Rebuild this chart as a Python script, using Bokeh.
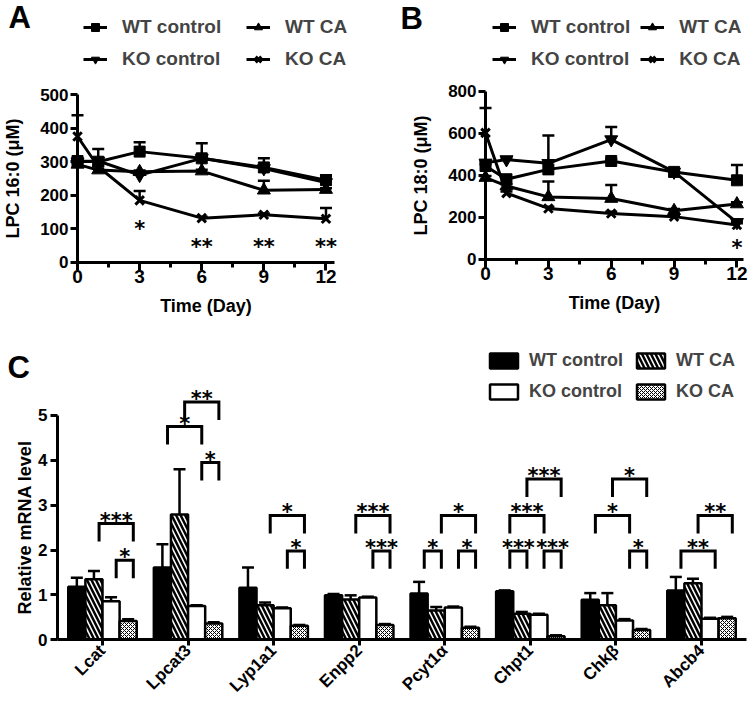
import math
from bokeh.plotting import figure
from bokeh.layouts import column, row
from bokeh.models import (ColumnDataSource, Legend, LegendItem, Whisker, TeeHead,
                          FixedTicker, Range1d)
from bokeh.embed import file_html
from bokeh.resources import INLINE
from bokeh.core.properties import value

FONT = "Liberation Sans"
STAR_FONT = "DejaVu Sans"

# ---------------- data ----------------
days = [0, 1, 3, 6, 9, 12]
day_ticks = [0, 3, 6, 9, 12]
day_minor = [1.5, 4.5, 7.5, 10.5]
groups = ["WT control", "WT CA", "KO control", "KO CA"]

# Panel A: LPC 16:0 (uM)
a_wt_ctrl = [302, 300, 330, 310, 283, 245]
a_wt_ctrl_err = [6, 38, 28, 45, 27, 15]
a_wt_ca = [292, 275, 270, 272, 215, 217]
a_wt_ca_err = [4, 4, 4, 4, 28, 4]
a_ko_ctrl = [300, 302, 260, 310, 280, 238]
a_ko_ctrl_err = [4, 4, 4, 4, 4, 4]
a_ko_ca = [375, 285, 185, 132, 142, 130]
a_ko_ca_err = [63, 4, 28, 4, 4, 32]
a_sig_days = [3, 6, 9, 12]
a_sig_y = [100, 47, 47, 47]
a_sig_labels = ["*", "**", "**", "**"]

# Panel B: LPC 18:0 (uM)
b_wt_ctrl = [445, 382, 429, 469, 417, 377]
b_wt_ctrl_err = [8, 8, 161, 8, 8, 73]
b_wt_ca = [390, 350, 298, 290, 232, 264]
b_wt_ca_err = [8, 8, 73, 65, 8, 8]
b_ko_ctrl = [460, 476, 458, 571, 417, 177]
b_ko_ctrl_err = [8, 8, 8, 60, 8, 8]
b_ko_ca = [603, 316, 243, 219, 204, 164]
b_ko_ca_err = [118, 8, 8, 8, 8, 8]
b_sig_days = [12]
b_sig_y = [54]
b_sig_labels = ["*"]

# Panel C: relative mRNA level
genes = ["Lcat", "Lpcat3", "Lyp1a1", "Enpp2", "Pcyt1\u03b1", "Chpt1", "Chk\u03b2", "Abcb4"]
c_wt_ctrl = [1.18, 1.61, 1.16, 0.99, 1.03, 1.08, 0.89, 1.10]
c_wt_ctrl_err = [0.20, 0.52, 0.45, 0.03, 0.26, 0.02, 0.15, 0.30]
c_wt_ca = [1.35, 2.79, 0.77, 0.90, 0.65, 0.58, 0.77, 1.26]
c_wt_ca_err = [0.18, 1.01, 0.06, 0.09, 0.08, 0.04, 0.27, 0.10]
c_ko_ctrl = [0.86, 0.75, 0.70, 0.94, 0.72, 0.56, 0.43, 0.47]
c_ko_ctrl_err = [0.09, 0.02, 0.02, 0.02, 0.02, 0.02, 0.03, 0.02]
c_ko_ca = [0.42, 0.36, 0.31, 0.33, 0.27, 0.08, 0.22, 0.48]
c_ko_ca_err = [0.04, 0.03, 0.02, 0.02, 0.02, 0.02, 0.02, 0.03]

# significance brackets: gene index, left bar, right bar, bracket height, label
brk_gene = [0, 0, 1, 1, 1, 2, 2, 3, 3, 4, 4, 4, 5, 5, 5, 5, 6, 6, 6, 7, 7]
brk_left = [1, 2, 0, 1, 2, 1, 2, 1, 2, 0, 2, 1, 0, 2, 0, 1, 0, 1, 2, 0, 1]
brk_right = [3, 3, 2, 3, 3, 3, 3, 3, 3, 1, 3, 3, 1, 3, 2, 3, 2, 3, 3, 2, 3]
brk_y = [2.59, 1.77, 4.75, 5.30, 3.95, 2.77, 1.98, 2.77, 1.98, 1.98, 1.98, 2.77,
         1.98, 1.98, 2.77, 3.58, 2.77, 3.58, 1.98, 1.98, 2.77]
brk_label = ["***", "*", "*", "**", "*", "*", "*", "***", "***", "*", "*", "*",
             "***", "***", "***", "***", "*", "*", "*", "**", "**"]


# ---------------- styling helpers ----------------
def style_axis(ax, tick_size, label_size="18px"):
    ax.axis_line_width = 3
    ax.axis_line_color = "black"
    ax.major_tick_line_width = 3
    ax.minor_tick_line_width = 3
    ax.major_tick_in = 0
    ax.minor_tick_in = 0
    ax.major_label_text_font = FONT
    ax.major_label_text_font_style = "bold"
    ax.major_label_text_font_size = tick_size
    ax.major_label_text_color = "black"
    ax.axis_label_text_font = FONT
    ax.axis_label_text_font_style = "bold"
    ax.axis_label_text_font_size = label_size
    ax.axis_label_text_color = "black"


def letter(p, x, y, txt):
    p.text(x=[x], y=[y], text=[txt], text_font=value(FONT), text_font_style="bold",
           text_font_size="31px", text_align="left", text_baseline="middle",
           text_color="black")


markers = ["square", "triangle", "inverted_triangle", "x"]
msizes = [11, 13, 13, 12]


def time_panel(width, x_rng, x_bound, y_rng, y_max, y_step, ylabel,
               vals, errs, sig_x, sig_y, sig_lab, letter_txt, letter_xy, legend_xy, label_w):
    p = figure(width=width, height=322, x_range=Range1d(*x_rng), y_range=Range1d(*y_rng),
               output_backend="svg", toolbar_location=None,
               min_border_left=0, min_border_right=0, min_border_top=0, min_border_bottom=0)
    p.outline_line_color = None
    p.xgrid.visible = False
    p.ygrid.visible = False
    p.background_fill_color = "white"

    style_axis(p.xaxis[0], "19px")
    style_axis(p.yaxis[0], "17px")
    p.xaxis.ticker = FixedTicker(ticks=day_ticks, minor_ticks=day_minor)
    p.xaxis.major_tick_out = 8
    p.xaxis.minor_tick_out = 5
    p.xaxis.major_label_standoff = 0
    p.xaxis.axis_label = "Time (Day)"
    p.xaxis.axis_label_standoff = 9
    p.xaxis.bounds = (0, x_bound)
    p.xaxis.fixed_location = 0
    p.yaxis.ticker = FixedTicker(ticks=list(range(0, y_max + 1, y_step)))
    p.yaxis.major_tick_out = 7
    p.yaxis.major_label_standoff = 2
    p.yaxis.axis_label = ylabel
    p.yaxis.axis_label_standoff = 14
    p.yaxis.bounds = (0, y_max)
    p.yaxis.fixed_location = 0

    items = []
    for name, v, e, mk, ms in zip(groups, vals, errs, markers, msizes):
        src = ColumnDataSource(dict(x=days, y=v, upper=[a + b for a, b in zip(v, e)]))
        w = Whisker(source=src, base="x", lower="y", upper="upper", dimension="height",
                    line_width=2.5, line_color="black",
                    upper_head=TeeHead(size=12, line_width=2.5, line_color="black"),
                    lower_head=None)
        p.add_layout(w)
        rl = p.line("x", "y", source=src, line_width=3, line_color="black")
        rm = p.scatter("x", "y", source=src, marker=mk, size=ms, fill_color="black",
                       line_color="black", line_width=3 if mk == "x" else 1)
        items.append((name, rl, rm))

    order = [0, 2, 1, 3]
    legend = Legend(items=[LegendItem(label=items[k][0], renderers=[items[k][1], items[k][2]]) for k in order],
                    location=legend_xy, orientation="vertical", ncols=2,
                    glyph_width=24, glyph_height=20, label_height=20, label_width=label_w,
                    label_standoff=15, spacing=10, padding=0, margin=0,
                    border_line_color=None, background_fill_alpha=0,
                    label_text_font=FONT, label_text_font_style="bold", label_text_font_size="19px")
    p.add_layout(legend)

    p.text(x=sig_x, y=sig_y, text=sig_lab, text_font=value(STAR_FONT), text_font_style="bold",
           text_font_size="21px", text_align="center", text_baseline="middle", text_color="black")
    letter(p, letter_xy[0], letter_xy[1], letter_txt)
    return p


# A: day 0 at x=77px, 20.7 px/day; y 0 at 262px, 0.336 px/unit; frame = whole figure
pA = time_panel(370, (-3.72, 14.15), 12.4, (-178.6, 779.8), 500, 100, "LPC 16:0 (\u03bcM)",
                [a_wt_ctrl, a_wt_ca, a_ko_ctrl, a_ko_ca],
                [a_wt_ctrl_err, a_wt_ca_err, a_ko_ctrl_err, a_ko_ca_err],
                a_sig_days, a_sig_y, a_sig_labels, "A", (-3.33, 730), (83, 252), 114)
# B: day 0 at x=485px, 20.96 px/day; y 0 at 259px, 0.21 px/unit
pB = time_panel(379, (-5.49, 12.6), 12.3, (-300, 1233), 800, 200, "LPC 18:0 (\u03bcM)",
                [b_wt_ctrl, b_wt_ca, b_ko_ctrl, b_ko_ca],
                [b_wt_ctrl_err, b_wt_ca_err, b_ko_ctrl_err, b_ko_ca_err],
                b_sig_days, b_sig_y, b_sig_labels, "B", (-4.06, 1148), (122, 252), 94)

# ---------------- panel C ----------------
offsets = [-0.3, -0.1, 0.1, 0.3]
BAR_W = 0.2
BRK_SHIFT = 0.06
LEG = 0.4

pC = figure(width=749, height=391, x_range=Range1d(-0.692, 8.061), y_range=Range1d(-1.643, 7.07),
            output_backend="svg", toolbar_location=None,
            min_border_left=0, min_border_right=0, min_border_top=0, min_border_bottom=0)
pC.outline_line_color = None
pC.xgrid.visible = False
pC.ygrid.visible = False
style_axis(pC.xaxis[0], "17px")
style_axis(pC.yaxis[0], "17px")
centers = [i + 0.5 for i in range(len(genes))]
pC.xaxis.ticker = FixedTicker(ticks=centers)
pC.xaxis.major_label_overrides = {c: g for c, g in zip(centers, genes)}
pC.xaxis.major_label_orientation = math.pi / 4
pC.xaxis.major_tick_out = 6
pC.xaxis.major_label_standoff = 2
pC.xaxis.bounds = (-0.026, 8.03)
pC.xaxis.fixed_location = 0
pC.yaxis.ticker = FixedTicker(ticks=[0, 1, 2, 3, 4, 5])
pC.yaxis.bounds = (0, 5)
pC.yaxis.major_tick_out = 7
pC.yaxis.major_label_standoff = 3
pC.yaxis.axis_label = "Relative mRNA level"
pC.yaxis.axis_label_standoff = 0
pC.yaxis.fixed_location = -0.026

c_vals = [c_wt_ctrl, c_wt_ca, c_ko_ctrl, c_ko_ca]
c_errs = [c_wt_ctrl_err, c_wt_ca_err, c_ko_ctrl_err, c_ko_ca_err]
fills = ["black", "white", "white", "white"]
hatches = [" ", "\\", " ", "x"]
hscale = [8, 9, 8, 4]
hweight = [1, 2.5, 1, 1]
c_items = []
for k, name in enumerate(groups):
    xs = [c + offsets[k] for c in centers]
    src = ColumnDataSource(dict(x=xs, top=c_vals[k],
                                upper=[a + b for a, b in zip(c_vals[k], c_errs[k])]))
    w = Whisker(source=src, base="x", lower="top", upper="upper", dimension="height",
                line_width=2.5, line_color="black",
                upper_head=TeeHead(size=12, line_width=2.5, line_color="black"), lower_head=None)
    pC.add_layout(w)
    r = pC.vbar(x="x", top="top", width=BAR_W, source=src, fill_color=fills[k],
                line_color="black", line_width=2.5, hatch_pattern=hatches[k],
                hatch_color="black", hatch_scale=hscale[k], hatch_weight=hweight[k])
    c_items.append((name, r))

c_order = [0, 2, 1, 3]
legC = Legend(items=[LegendItem(label=c_items[k][0], renderers=[c_items[k][1]]) for k in c_order],
              location=(486, 311), orientation="vertical", ncols=2,
              glyph_width=35, glyph_height=19, label_height=20, label_standoff=8,
              spacing=10, padding=0, margin=0, border_line_color=None, background_fill_alpha=0,
              label_text_font=FONT, label_text_font_style="bold", label_text_font_size="18px")
pC.add_layout(legC)

bx, by, tx = [], [], []
for g, i, j, yt in zip(brk_gene, brk_left, brk_right, brk_y):
    xl = centers[g] + offsets[i] + BRK_SHIFT
    xr = centers[g] + offsets[j] + BRK_SHIFT
    bx.append([xl, xl, xr, xr])
    by.append([yt - LEG, yt, yt, yt - LEG])
    tx.append((xl + xr) / 2)
pC.multi_line(bx, by, line_width=3, line_color="black", line_join="miter")
pC.text(x=tx, y=brk_y, text=brk_label, text_font=value(STAR_FONT), text_font_style="bold",
        text_font_size="21px", text_align="center", text_baseline="middle",
        y_offset=-3, text_color="black")
letter(pC, -0.61, 6.07, "C")

layout = column(row(pA, pB), pC)
open("out.html", "w").write(file_html(layout, INLINE))
